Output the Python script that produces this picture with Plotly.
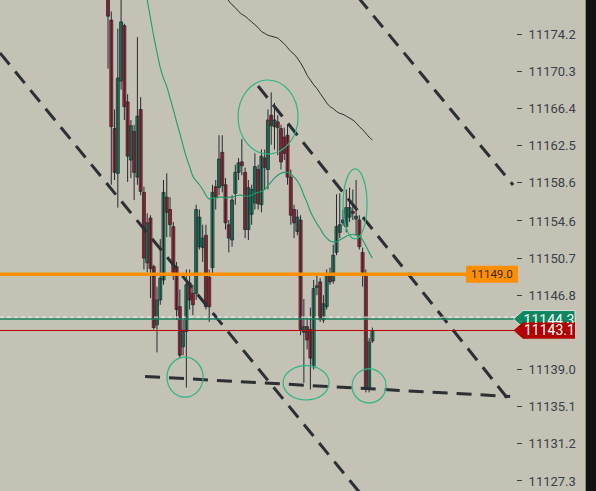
import plotly.graph_objects as go

# ---------------- data ----------------
opens = [11179.4, 11175.7, 11164.3, 11159.6, 11169.3, 11175.1, 11167.1, 11161.0, 11164.0, 11159.2,
         11166.3, 11157.6, 11150.2, 11154.9, 11149.8, 11143.7, 11146.3, 11148.4, 11157.1, 11155.8,
         11154.0, 11149.8, 11145.6, 11141.4, 11143.0, 11148.1, 11147.0, 11147.0, 11151.9, 11151.8,
         11153.1, 11148.7, 11149.7, 11158.2, 11158.1, 11161.8, 11158.4, 11154.2, 11152.6, 11157.5,
         11159.7, 11160.8, 11159.7, 11153.7, 11155.3, 11156.5, 11160.0, 11156.3, 11161.2, 11160.0,
         11165.7, 11164.5, 11165.0, 11164.3, 11163.4, 11163.6, 11159.2, 11155.8, 11153.5, 11154.7,
         11142.9, 11143.5, 11143.2, 11139.3, 11147.6, 11148.2, 11144.2, 11145.6, 11149.1, 11148.3,
         11151.3, 11153.4, 11154.4, 11154.0, 11155.0, 11155.6, 11154.8, 11154.7, 11151.3, 11149.1,
         11136.9, 11142.0]
highs = [11180.4, 11176.6, 11166.3, 11174.8, 11178.3, 11175.3, 11167.9, 11165.2, 11164.7, 11173.9,
         11167.6, 11158.2, 11155.4, 11155.2, 11150.0, 11147.7, 11152.7, 11158.9, 11159.6, 11157.1,
         11154.5, 11150.3, 11147.4, 11144.2, 11149.5, 11149.5, 11147.9, 11156.3, 11155.8, 11154.2,
         11154.2, 11149.5, 11158.4, 11158.9, 11163.6, 11163.6, 11159.1, 11154.7, 11157.3, 11160.5,
         11161.2, 11163.2, 11160.2, 11158.9, 11158.4, 11161.7, 11160.5, 11162.1, 11162.1, 11166.3,
         11168.1, 11167.0, 11165.7, 11164.7, 11164.4, 11164.7, 11160.0, 11156.3, 11155.8, 11155.2,
         11146.4, 11144.4, 11145.5, 11148.4, 11148.9, 11148.6, 11146.8, 11149.5, 11149.7, 11152.1,
         11157.4, 11157.5, 11155.8, 11157.9, 11158.1, 11157.9, 11158.9, 11155.2, 11151.8, 11149.5,
         11142.3, 11143.4]
lows = [11170.6, 11158.4, 11158.9, 11156.0, 11168.4, 11165.2, 11158.7, 11159.1, 11156.8, 11158.4,
        11157.3, 11149.5, 11149.2, 11146.5, 11143.2, 11140.8, 11145.8, 11147.9, 11152.9, 11152.9,
        11148.4, 11144.2, 11140.2, 11140.5, 11137.1, 11145.3, 11144.7, 11146.3, 11151.6, 11150.3,
        11145.3, 11144.0, 11148.9, 11155.8, 11157.3, 11157.6, 11153.7, 11151.3, 11151.9, 11156.3,
        11158.9, 11159.4, 11152.8, 11152.6, 11154.2, 11155.8, 11155.8, 11155.5, 11157.9, 11157.9,
        11162.6, 11162.1, 11161.5, 11160.0, 11161.0, 11158.4, 11154.2, 11152.8, 11153.1, 11142.6,
        11137.6, 11141.1, 11136.9, 11139.0, 11146.8, 11144.0, 11143.9, 11145.3, 11147.9, 11148.0,
        11151.0, 11152.8, 11154.1, 11153.4, 11154.5, 11154.7, 11153.1, 11151.6, 11147.7, 11136.6,
        11136.6, 11141.8]
closes = [11176.1, 11164.5, 11159.7, 11169.6, 11175.5, 11166.6, 11161.4, 11164.6, 11159.7, 11165.6,
          11157.7, 11150.7, 11154.4, 11149.6, 11143.4, 11146.3, 11148.6, 11157.6, 11155.5, 11154.2,
          11148.9, 11145.3, 11140.5, 11143.0, 11147.9, 11146.3, 11145.8, 11155.8, 11155.0, 11152.8,
          11145.6, 11145.6, 11157.6, 11157.1, 11161.1, 11158.3, 11154.4, 11152.8, 11156.8, 11159.7,
          11160.7, 11160.4, 11153.7, 11158.1, 11157.9, 11160.3, 11156.4, 11161.4, 11160.2, 11165.2,
          11164.6, 11165.2, 11164.4, 11160.8, 11161.7, 11159.2, 11155.2, 11154.4, 11155.0, 11143.2,
          11143.5, 11142.1, 11140.2, 11147.5, 11147.8, 11144.3, 11145.9, 11148.9, 11148.2, 11151.0,
          11154.0, 11154.2, 11154.7, 11156.0, 11156.0, 11155.4, 11155.1, 11151.9, 11149.2, 11137.0,
          11141.9, 11143.1]

# green moving average, starting at candle 11
ma_fast_start = 11
ma_fast = [11179.4, 11177.8, 11175.9, 11174.0, 11172.3, 11170.7, 11169.6, 11168.7, 11167.5, 11166.3,
           11165.0, 11163.8, 11162.5, 11161.3, 11160.3, 11159.3, 11158.8, 11158.4, 11157.9, 11157.3,
           11156.9, 11157.0, 11157.0, 11157.1, 11157.1, 11157.0, 11157.1, 11157.1, 11157.2, 11157.3,
           11157.3, 11157.2, 11157.2, 11157.3, 11157.5, 11157.6, 11157.7, 11157.9, 11158.3, 11158.7,
           11159.1, 11159.4, 11159.6, 11159.7, 11159.7, 11159.5, 11159.2, 11158.8, 11158.2, 11157.3,
           11156.5, 11155.6, 11154.9, 11154.3, 11153.8, 11153.2, 11152.8, 11152.5, 11152.4, 11152.4,
           11152.6, 11152.8, 11153.0, 11153.1, 11153.2, 11153.1, 11153.0, 11152.6, 11152.0, 11151.3,
           11150.7]
# dark moving average, starting at candle 36
ma_slow_start = 36
ma_slow = [11178.1, 11177.7, 11177.3, 11177.0, 11176.6, 11176.3, 11176.1, 11175.8, 11175.5, 11175.2,
           11174.9, 11174.5, 11174.3, 11174.1, 11174.0, 11173.9, 11173.8, 11173.5, 11173.2, 11172.8,
           11172.4, 11172.1, 11171.7, 11171.2, 11170.6, 11169.9, 11169.4, 11168.9, 11168.5, 11168.0,
           11167.5, 11167.0, 11166.6, 11166.4, 11166.1, 11165.9, 11165.8, 11165.6, 11165.4, 11165.2,
           11164.9, 11164.5, 11164.2, 11163.8, 11163.4, 11163.1]

# price levels
level_orange = 11149.0
level_ask = 11144.5
level_bid = 11144.3
level_last = 11143.1

# drawn trend lines: (candle index, price) end points
trend_a = [(-33.1, 11172.24), (77.2, 11126.04)]
trend_b = [(45.97, 11168.77), (123.8, 11135.38)]
trend_c = [(76.6, 11178.1), (124.1, 11158.38)]
trend_d = [(11.34, 11138.27), (123.2, 11136.17)]

# highlighted ellipses: (x0, x1, y0, y1) in candle index / price
ellipses = [(39.84, 58.23, 11161.63, 11169.4),
            (72.02, 79.37, 11152.71, 11160.06),
            (18.08, 29.11, 11136.1, 11140.3),
            (53.63, 67.73, 11135.8, 11139.4),
            (74.78, 85.2, 11135.49, 11139.06)]

tick_vals = [11174.2, 11170.3, 11166.4, 11162.5, 11158.6, 11154.6, 11150.7, 11146.8,
             11139.0, 11135.1, 11131.2, 11127.3]
tick_text = ["11174.2", "11170.3", "11166.4", "11162.5", "11158.6", "11154.6", "11150.7",
             "11146.8", "11139.0", "11135.1", "11131.2", "11127.3"]

# ---------------- styling ----------------
BG = '#C4C2B4'
UP = '#15A06C'
DOWN = '#DA1E30'
EDGE = '#262A30'
W, H = 596, 491
PLOT_R = 516 / W
YMIN, YMAX = 11126.245, 11177.8
XMIN, XMAX = -33.1, 125.0
FONT = 'Roboto'

def ypaper(p):
    return (p - YMIN) / (YMAX - YMIN)

n = len(opens)
idx = list(range(n))
bases, heights, cols = [], [], []
for o, c in zip(opens, closes):
    bases.append(min(o, c))
    heights.append(max(abs(c - o), 0.12))
    cols.append(UP if c >= o else DOWN)

wx, wy = [], []
for i, (hi, lo) in enumerate(zip(highs, lows)):
    wx += [i, i, None]
    wy += [lo, hi, None]

fig = go.Figure()
fig.add_trace(go.Scatter(x=wx, y=wy, mode='lines', line=dict(color=EDGE, width=1), hoverinfo='skip'))
fig.add_trace(go.Bar(x=idx, y=heights, base=bases, width=0.92,
                     marker=dict(color=cols, line=dict(color=EDGE, width=0.8)), hoverinfo='skip'))
fig.add_trace(go.Scatter(x=list(range(ma_fast_start, ma_fast_start + len(ma_fast))), y=ma_fast,
                         mode='lines', line=dict(color='#1F9C6E', width=1.1, shape='spline'), hoverinfo='skip'))
fig.add_trace(go.Scatter(x=list(range(ma_slow_start, ma_slow_start + len(ma_slow))), y=ma_slow,
                         mode='lines', line=dict(color='#2A2C2E', width=1, shape='spline'), hoverinfo='skip'))

for tl in (trend_a, trend_b, trend_c, trend_d):
    fig.add_trace(go.Scatter(x=[p[0] for p in tl], y=[p[1] for p in tl], mode='lines',
                             line=dict(color='#2C2F34', width=3, dash='15px,9px'), hoverinfo='skip'))

shapes = []
# horizontal levels
shapes.append(dict(type='line', xref='paper', yref='y', x0=0, x1=466 / W, y0=level_orange, y1=level_orange,
                   line=dict(color='#FF8F00', width=3.5), layer='above'))
shapes.append(dict(type='line', xref='paper', yref='y', x0=0, x1=PLOT_R, y0=level_ask, y1=level_ask,
                   line=dict(color='#F2F2F2', width=1, dash='4px,3px'), layer='above'))
shapes.append(dict(type='line', xref='paper', yref='y', x0=0, x1=PLOT_R, y0=level_bid, y1=level_bid,
                   line=dict(color='#1A7F5C', width=1.5), layer='above'))
shapes.append(dict(type='line', xref='paper', yref='y', x0=0, x1=PLOT_R, y0=level_last, y1=level_last,
                   line=dict(color='#B80000', width=1), layer='above'))
# ellipses
for x0, x1, y0, y1 in ellipses:
    shapes.append(dict(type='circle', xref='x', yref='y', x0=x0, x1=x1, y0=y0, y1=y1,
                       line=dict(color='#2DB585', width=1.2), layer='above'))

# orange label box
oy = ypaper(level_orange)
shapes.append(dict(type='rect', xref='paper', yref='paper', x0=466 / W, x1=518 / W,
                   y0=oy - 8.5 / H, y1=oy + 8.5 / H, fillcolor='#FF8F00', line=dict(width=0), layer='above'))

def tag_path(py_center, half_h):
    tip = 513.5 / W
    bx = 523 / W
    r = 575 / W
    t = py_center + half_h / H
    b = py_center - half_h / H
    return f"M {tip},{py_center} L {bx},{t} L {r},{t} L {r},{b} L {bx},{b} Z"

gy = ypaper(level_bid)
shapes.append(dict(type='path', xref='paper', yref='paper', path=tag_path(gy, 8.5),
                   fillcolor='#0E8660', line=dict(color='#EDEDED', width=0.8), layer='above'))
ry = ypaper(level_last)
shapes.append(dict(type='path', xref='paper', yref='paper', path=tag_path(ry, 8.3),
                   fillcolor='#B00000', line=dict(width=0), layer='above'))
# dark strip on the right
shapes.append(dict(type='rect', xref='paper', yref='paper', x0=585.7 / W, x1=1, y0=0, y1=1,
                   fillcolor='#121212', line=dict(width=0), layer='above'))

# visible part of the green tag (its lower half is hidden by the red tag)
green_top = gy + 7.8 / H
red_top = ry + 8.3 / H
annotations = [
    dict(xref='paper', yref='y', x=492 / W, y=level_orange, text='11149.0', showarrow=False,
         font=dict(family=FONT, size=11.5, color='#2E2A22'), xanchor='center', yanchor='middle'),
    dict(xref='paper', yref='paper', x=549 / W, y=green_top, text='11144.3', showarrow=False,
         font=dict(family=FONT, size=14, color='white'), xanchor='center', yanchor='top',
         valign='top', height=max((green_top - red_top) * H, 1), width=52, borderpad=0),
    dict(xref='paper', yref='y', x=549 / W, y=level_last, text='11143.1', showarrow=False,
         font=dict(family=FONT, size=14, color='white'), xanchor='center', yanchor='middle'),
]

fig.update_layout(
    width=W, height=H, margin=dict(l=0, r=0, t=0, b=0),
    paper_bgcolor=BG, plot_bgcolor=BG, showlegend=False, hovermode=False,
    shapes=shapes, annotations=annotations,
    xaxis=dict(domain=[0, PLOT_R], range=[XMIN, XMAX], visible=False, fixedrange=True),
    yaxis=dict(side='right', range=[YMIN, YMAX], tickvals=tick_vals, ticktext=tick_text,
               ticks='outside', ticklen=5, tickcolor='#3A3F47', tickwidth=1,
               showgrid=False, zeroline=False, showline=False, fixedrange=True,
               tickfont=dict(family=FONT, size=13, color='#3A3F4A'), ticklabelstandoff=4),
)

fig.write_html("out.html", config={'displayModeBar': False},
               post_script="document.body.style.margin='0';document.body.style.overflow='hidden';")
